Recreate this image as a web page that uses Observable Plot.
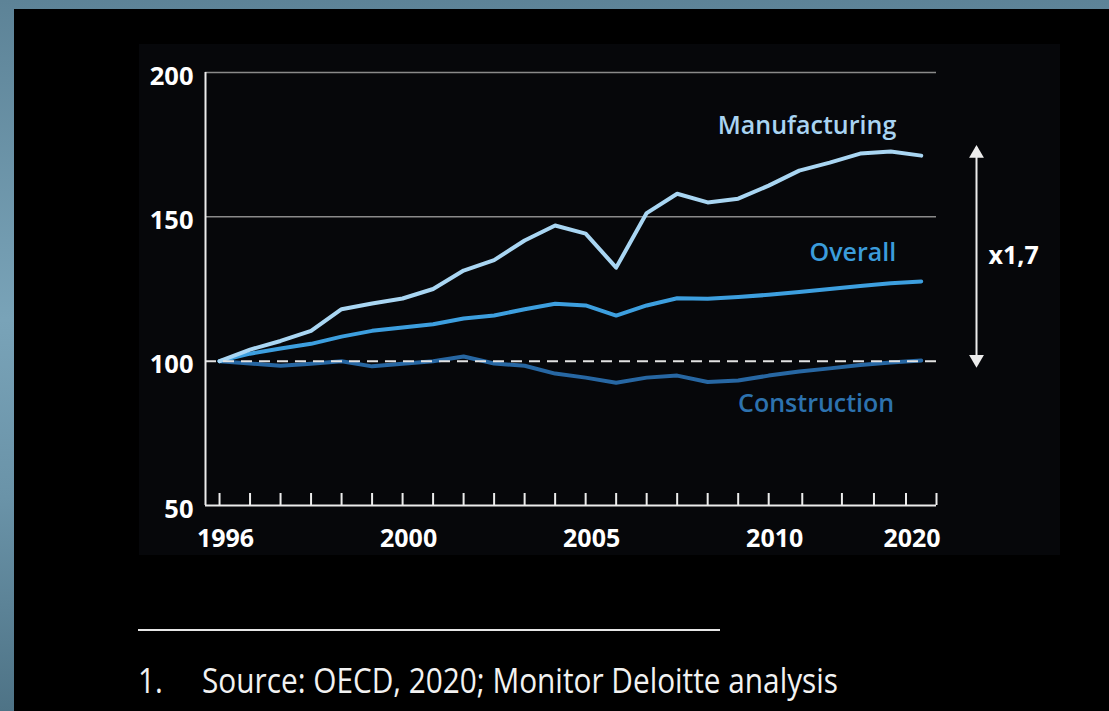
<!DOCTYPE html>
<html>
<head>
<meta charset="utf-8">
<script src="https://cdn.jsdelivr.net/npm/d3@7"></script>
<script src="https://cdn.jsdelivr.net/npm/@observablehq/plot@0.6"></script>
<style>
  html, body { margin: 0; padding: 0; }
  body {
    width: 1109px; height: 711px; overflow: hidden; position: relative;
    background: linear-gradient(to bottom, #5d8397 0%, #79a3b8 45%, #6a93a8 70%, #4e7386 100%);
    font-family: "Open Sans", sans-serif;
  }
  #panel { position: absolute; left: 14px; top: 9px; right: 0; bottom: 0; background: #000; }
  #chart { position: absolute; left: 139px; top: 44px; }
  #rule { position: absolute; left: 138px; top: 629px; width: 582px; height: 2px; background: #e6e6e6; }
  .foot { position: absolute; top: 660px; color: #f2f2f2; font-size: 35px; line-height: 40px;
          white-space: nowrap; transform-origin: 0 0; }
</style>
</head>
<body>
<div id="panel"></div>
<div id="chart"></div>
<div id="rule"></div>
<div class="foot" id="fnum" style="left:138px">1.</div>
<div class="foot" id="ftext" style="left:202px">Source: OECD, 2020; Monitor Deloitte analysis</div>
<script>
// ---- data ----
const seriesNames = ["Manufacturing", "Overall", "Construction"];
const manufacturing = [100, 104, 107, 110.5, 118, 120, 121.7, 125, 131.4, 135, 141.8, 147, 144.2, 132.4, 151.3, 158, 155, 156.3, 160.8, 166, 168.8, 171.9, 172.6, 171.2];
const overall = [100, 102.6, 104.4, 106, 108.5, 110.5, 111.7, 112.8, 114.8, 115.8, 118, 119.9, 119.3, 115.8, 119.3, 121.8, 121.6, 122.2, 123, 124, 125, 126, 127, 127.6];
const construction = [100, 99.2, 98.4, 99.1, 100, 98.2, 99.1, 100, 101.6, 99.2, 98.4, 95.7, 94.3, 92.5, 94.3, 95, 92.8, 93.3, 95, 96.4, 97.5, 98.7, 99.5, 100.2];
const yTicks = [50, 100, 150, 200];
const xTickPos = [0,1,2,3,4,5,6,7,8,9,10,11,12,13,14,15,16,17,18,19.1,20.4,21.45,22.5,23.5];
const xLabelPos = [0, 6, 12, 18, 22.5];
const xLabels = ["1996", "2000", "2005", "2010", "2020"];
const growthLabel = "x1,7";

const colors = {Manufacturing: "#a9d6f3", Overall: "#3d9fdf", Construction: "#2767a3"};
const labelColors = {Manufacturing: "#a9d4f2", Overall: "#3b9cdb", Construction: "#2d72ae"};
const valuesBySeries = {Manufacturing: manufacturing, Overall: overall, Construction: construction};
const rows = seriesNames.flatMap(s => valuesBySeries[s].map((v, i) => ({series: s, i, v})));

const xDomain = [-0.46, 23.5];
const maxManu = d3.max(manufacturing);
const white = "#ececec";

const labelOffsets = {Manufacturing: {dx: -25, dy: -30}, Overall: {dx: -25, dy: -28}, Construction: {dx: -27, dy: 43}};

const chart = Plot.plot({
  width: 921, height: 511,
  marginLeft: 66, marginRight: 124, marginTop: 28, marginBottom: 50,
  style: {background: "#06070a", color: "white", fontFamily: "Open Sans", overflow: "visible"},
  x: {domain: xDomain, axis: null},
  y: {domain: [50, 200], axis: null},
  marks: [
    Plot.ruleY([150, 200], {stroke: "#8a8a8a", strokeWidth: 1.5}),
    Plot.line(rows.filter(d => d.series === "Construction"), {x: "i", y: "v", stroke: colors.Construction, strokeWidth: 4, strokeLinejoin: "round"}),
    Plot.line(rows.filter(d => d.series === "Overall"), {x: "i", y: "v", stroke: colors.Overall, strokeWidth: 4, strokeLinejoin: "round"}),
    Plot.line(rows.filter(d => d.series === "Manufacturing"), {x: "i", y: "v", stroke: colors.Manufacturing, strokeWidth: 4, strokeLinejoin: "round"}),
    Plot.ruleY([100], {stroke: "#e2e2e2", strokeWidth: 2, strokeDasharray: "11,7"}),
    // axes
    Plot.ruleX([xDomain[0]], {y1: 50, y2: 200, stroke: white, strokeWidth: 2}),
    Plot.ruleY([50], {stroke: white, strokeWidth: 2}),
    Plot.ruleX(xTickPos, {x: d => d, y1: 50, y2: 50, insetTop: -12, stroke: white, strokeWidth: 2}),
    Plot.text(yTicks, {x: xDomain[0], y: d => d, text: d => String(d), textAnchor: "end", dx: -12, dy: 4,
      fill: "white", fontSize: 25.5, fontWeight: "bold"}),
    Plot.text(xLabelPos, {x: d => d, y: 50, text: (d, i) => xLabels[i], dx: 6, dy: 33,
      fill: "white", fontSize: 25, fontWeight: "bold"}),
    // series labels
    ...seriesNames.map(s => Plot.text(rows.filter(d => d.series === s), Plot.selectLast({
      x: "i", y: "v", text: "series", textAnchor: "end", dx: labelOffsets[s].dx, dy: labelOffsets[s].dy,
      fill: labelColors[s], fontSize: 25, fontWeight: 600
    }))),
    // growth arrow
    Plot.ruleX([0], {x: xDomain[1], dx: 40, y1: 100, y2: maxManu, stroke: white, strokeWidth: 2, insetTop: 4, insetBottom: 4}),
    Plot.dot([maxManu], {x: xDomain[1], y: d => d, dx: 40, dy: 2, symbol: "triangle", r: 5.5, fill: white, stroke: "none"}),
    Plot.dot([100], {x: xDomain[1], y: d => d, dx: 40, dy: -2, symbol: "triangle", r: 5.5, rotate: 180, fill: white, stroke: "none"}),
    Plot.text([growthLabel], {x: xDomain[1], y: (100 + maxManu) / 2, text: d => d, dx: 52, textAnchor: "start",
      fill: "white", fontSize: 25, fontWeight: "bold"})
  ]
});
document.getElementById("chart").appendChild(chart);

// condensed footer text to fit reference widths
const ft = document.getElementById("ftext");
const k = 636 / ft.getBoundingClientRect().width;
ft.style.transform = `scaleX(${k})`;
document.getElementById("fnum").style.transform = `scaleX(${k})`;
</script>
</body>
</html>
